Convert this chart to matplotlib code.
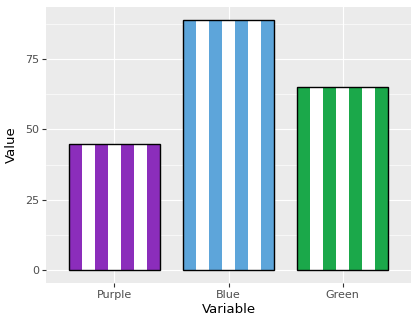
import matplotlib
matplotlib.use("Agg")
import matplotlib.pyplot as plt
import numpy as np

categories = ["Purple", "Blue", "Green"]
values = [45, 89, 65]
colors = ["#8B2DBB", "#5DA5DA", "#1BA84A"]
n_stripes = 7
bar_width = 0.8

fig = plt.figure(figsize=(4.19, 3.29), dpi=100)
ax = fig.add_axes([46/419, 1 - 283/329, (411-46)/419, (283-7)/329])
ax.set_facecolor("#EBEBEB")

x = np.arange(1, len(categories) + 1)
sw = bar_width / n_stripes
for xi, v, c in zip(x, values, colors):
    left = xi - bar_width / 2
    for k in range(n_stripes):
        ax.bar(left + (k + 0.5) * sw, v, width=sw, color=c if k % 2 == 0 else "white",
               linewidth=0, zorder=2)
    ax.bar(xi, v, width=bar_width, fill=False, edgecolor="black", linewidth=1.0, zorder=3)

ymax = max(values)
ax.set_xlim(0.4, 3.6)
ax.set_ylim(-0.05 * ymax, ymax * 1.05)

ax.set_yticks([0, 25, 50, 75])
ax.set_yticks([12.5, 37.5, 62.5, 87.5], minor=True)
ax.set_xticks(x)
ax.set_xticklabels(categories)

ax.grid(which="major", color="white", linewidth=0.85, zorder=0)
ax.grid(which="minor", axis="y", color="white", linewidth=0.45, zorder=0)
ax.set_axisbelow(True)
for s in ax.spines.values():
    s.set_visible(False)
ax.tick_params(which="major", length=3, width=0.8, color="#333333", labelcolor="#4D4D4D",
               labelsize=8, pad=2)
ax.tick_params(which="minor", length=0)

ax.set_xlabel("Variable", fontsize=9.5, color="black", labelpad=2)
ax.set_ylabel("Value", fontsize=9.5, color="black", labelpad=5)

fig.savefig("out.png", dpi=100, facecolor="white")
